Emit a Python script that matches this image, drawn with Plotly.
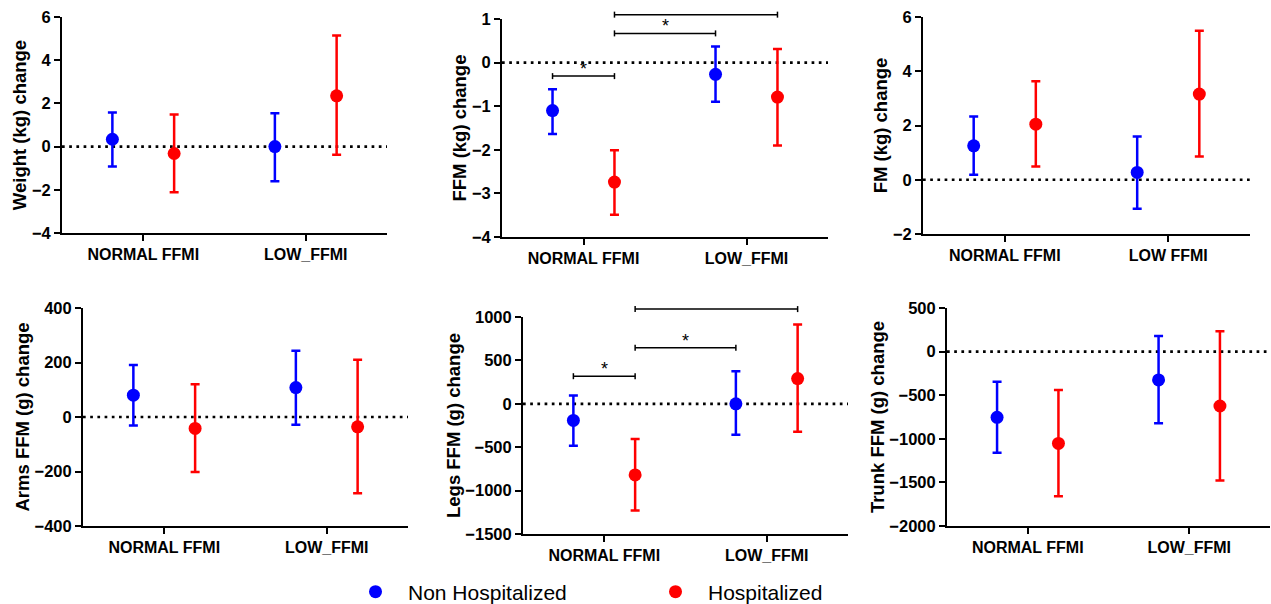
import plotly.graph_objects as go

# ---------------- data ----------------
categories = ["NORMAL FFMI", "LOW_FFMI"]
categories_fm = ["NORMAL FFMI", "LOW FFMI"]
series_names = ["Non Hospitalized", "Hospitalized"]

weight_non_mean = [0.34, 0.00]
weight_non_upper = [1.58, 1.54]
weight_non_lower = [-0.92, -1.60]
weight_hosp_mean = [-0.32, 2.35]
weight_hosp_upper = [1.49, 5.14]
weight_hosp_lower = [-2.11, -0.38]

ffm_non_mean = [-1.10, -0.27]
ffm_non_upper = [-0.61, 0.37]
ffm_non_lower = [-1.64, -0.90]
ffm_hosp_mean = [-2.74, -0.79]
ffm_hosp_upper = [-2.01, 0.31]
ffm_hosp_lower = [-3.49, -1.90]

fm_non_mean = [1.25, 0.27]
fm_non_upper = [2.33, 1.59]
fm_non_lower = [0.18, -1.07]
fm_hosp_mean = [2.05, 3.16]
fm_hosp_upper = [3.63, 5.49]
fm_hosp_lower = [0.49, 0.86]

arms_non_mean = [80, 108]
arms_non_upper = [191, 243]
arms_non_lower = [-31, -28]
arms_hosp_mean = [-42, -36]
arms_hosp_upper = [120, 210]
arms_hosp_lower = [-202, -280]

legs_non_mean = [-191, 0]
legs_non_upper = [96, 375]
legs_non_lower = [-482, -356]
legs_hosp_mean = [-819, 291]
legs_hosp_upper = [-406, 915]
legs_hosp_lower = [-1229, -322]

trunk_non_mean = [-754, -325]
trunk_non_upper = [-345, 180]
trunk_non_lower = [-1160, -823]
trunk_hosp_mean = [-1053, -624]
trunk_hosp_upper = [-440, 234]
trunk_hosp_lower = [-1658, -1478]

# significance brackets: (series_a, cat_a, series_b, cat_b, level)
ffm_brackets = [(0, 0, 1, 0, -0.31), (1, 0, 0, 1, 0.67), (1, 0, 1, 1, 1.10)]
legs_brackets = [(0, 0, 1, 0, 318), (1, 0, 0, 1, 647), (1, 0, 1, 1, 1091)]

# ---------------- styling / layout ----------------
W, H = 1271, 604
COLORS = ["#0000FF", "#FF0000"]
OFFSET = 0.19
FONT = "Liberation Sans, Arial, Helvetica, sans-serif"

panels = [
    dict(title="Weight (kg) change", cats=categories, rng=[-4, 6], dtick=2,
         box=(62, 387, 17, 233),
         data=[(weight_non_mean, weight_non_upper, weight_non_lower),
               (weight_hosp_mean, weight_hosp_upper, weight_hosp_lower)],
         brackets=[]),
    dict(title="FFM (kg) change", cats=categories, rng=[-4, 1], dtick=1,
         box=(502, 828, 19, 237),
         data=[(ffm_non_mean, ffm_non_upper, ffm_non_lower),
               (ffm_hosp_mean, ffm_hosp_upper, ffm_hosp_lower)],
         brackets=ffm_brackets),
    dict(title="FM (kg) change", cats=categories_fm, rng=[-2, 6], dtick=2,
         box=(923, 1250, 17, 234),
         data=[(fm_non_mean, fm_non_upper, fm_non_lower),
               (fm_hosp_mean, fm_hosp_upper, fm_hosp_lower)],
         brackets=[]),
    dict(title="Arms FFM (g) change", cats=categories, rng=[-400, 400], dtick=200,
         box=(83, 408, 308, 526),
         data=[(arms_non_mean, arms_non_upper, arms_non_lower),
               (arms_hosp_mean, arms_hosp_upper, arms_hosp_lower)],
         brackets=[]),
    dict(title="Legs FFM (g) change", cats=categories, rng=[-1500, 1000], dtick=500,
         box=(523, 848, 317, 534),
         data=[(legs_non_mean, legs_non_upper, legs_non_lower),
               (legs_hosp_mean, legs_hosp_upper, legs_hosp_lower)],
         brackets=legs_brackets),
    dict(title="Trunk FFM (g) change", cats=categories, rng=[-2000, 500], dtick=500,
         box=(947, 1270, 308, 526),
         data=[(trunk_non_mean, trunk_non_upper, trunk_non_lower),
               (trunk_hosp_mean, trunk_hosp_upper, trunk_hosp_lower)],
         brackets=[]),
]

fig = go.Figure()
shapes = []
annotations = []
layout_axes = {}


def xpos(series, cat):
    return cat + (-OFFSET if series == 0 else OFFSET)


for i, p in enumerate(panels):
    n = i + 1
    xa = "x" if n == 1 else f"x{n}"
    ya = "y" if n == 1 else f"y{n}"
    left, right, top, bottom = p["box"]
    for s, (mean, upper, lower) in enumerate(p["data"]):
        xs = [xpos(s, c) for c in range(len(p["cats"]))]
        fig.add_trace(go.Scatter(
            x=xs, y=mean, mode="markers", xaxis=xa, yaxis=ya,
            name=series_names[s], legendgroup=series_names[s], showlegend=(i == 0),
            marker=dict(color=COLORS[s], size=13),
            error_y=dict(type="data", symmetric=False,
                         array=[u - m for u, m in zip(upper, mean)],
                         arrayminus=[m - l for m, l in zip(mean, lower)],
                         color=COLORS[s], thickness=2.5, width=4.5),
            cliponaxis=False,
        ))
    # zero dotted line
    shapes.append(dict(type="line", xref=f"{xa} domain", yref=ya, x0=0, x1=1, y0=0, y1=0,
                       line=dict(color="black", width=2.7, dash="2.7px,4.5px"), layer="below"))
    r0, r1 = p["rng"]
    for (sa, ca, sb, cb, lvl) in p["brackets"]:
        xa0, xa1 = xpos(sa, ca), xpos(sb, cb)
        yd = (lvl - r0) / (r1 - r0)
        capd = 3.0 / (bottom - top)
        shapes.append(dict(type="line", xref=xa, yref=f"{ya} domain", x0=xa0, x1=xa1, y0=yd, y1=yd,
                           line=dict(color="black", width=1.5)))
        for xx in (xa0, xa1):
            shapes.append(dict(type="line", xref=xa, yref=f"{ya} domain", x0=xx, x1=xx,
                               y0=yd - capd, y1=yd + capd, line=dict(color="black", width=1.5)))
        annotations.append(dict(x=(xa0 + xa1) / 2, y=lvl, xref=xa, yref=ya, text="*",
                                showarrow=False, yanchor="bottom", yshift=-5,
                                font=dict(family=FONT, size=18, color="black")))

    axis_common = dict(showline=True, linecolor="black", linewidth=2, ticks="outside",
                       ticklen=6, tickwidth=2, tickcolor="black", showgrid=False, zeroline=False,
                       automargin=False,
                       tickfont=dict(family=FONT, size=16.5, color="black", weight="bold"))
    xkey = "xaxis" if n == 1 else f"xaxis{n}"
    ykey = "yaxis" if n == 1 else f"yaxis{n}"
    layout_axes[xkey] = dict(axis_common, domain=[left / W, right / W], range=[-0.5, 1.5],
                             tickvals=list(range(len(p["cats"]))), ticktext=p["cats"],
                             anchor=ya, tickfont=dict(family=FONT, size=16, color="black", weight="bold"))
    layout_axes[ykey] = dict(axis_common, domain=[1 - bottom / H, 1 - top / H], range=p["rng"],
                             dtick=p["dtick"], tick0=0, anchor=xa,
                             title=dict(text=p["title"], standoff=0,
                                        font=dict(family=FONT, size=18.5, color="black", weight="bold")))

fig.update_layout(
    width=W, height=H,
    margin=dict(l=0, r=0, t=0, b=0, autoexpand=False),
    paper_bgcolor="white", plot_bgcolor="white",
    shapes=shapes, annotations=annotations,
    showlegend=True,
    legend=dict(orientation="h", x=343 / W, xanchor="left", y=1 - 592 / H, yanchor="middle",
                entrywidth=230, entrywidthmode="pixels", itemwidth=55,
                font=dict(family=FONT, size=21, color="black"), bgcolor="rgba(0,0,0,0)"),
    **layout_axes,
)

fig.write_html("out.html", config={"displayModeBar": False},
               post_script="document.body.style.margin='0';document.body.style.overflow='hidden';")
